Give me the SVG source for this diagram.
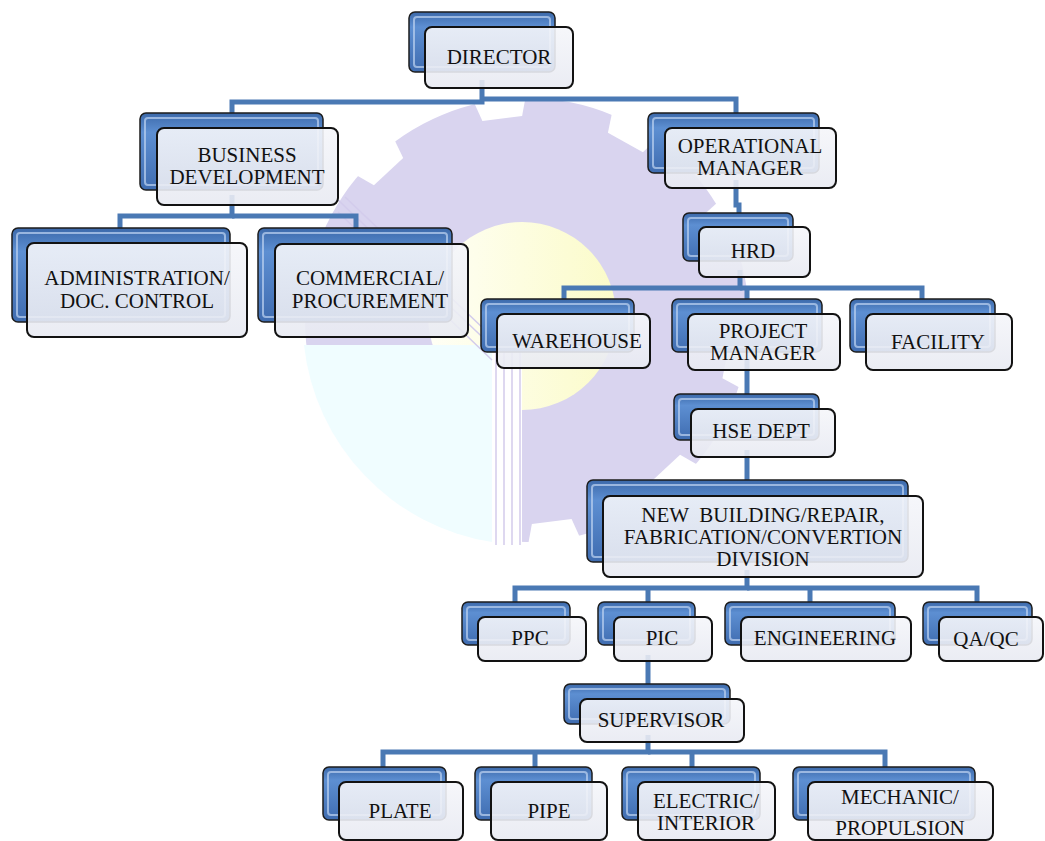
<svg xmlns="http://www.w3.org/2000/svg" width="1045" height="841" viewBox="0 0 1045 841">
<defs>
<linearGradient id="gb" x1="0" y1="0" x2="0" y2="1">
<stop offset="0" stop-color="#3c69aa"/>
<stop offset="0.25" stop-color="#5d8fd2"/>
<stop offset="1" stop-color="#3f6cb0"/>
</linearGradient>
<linearGradient id="gw" x1="0" y1="0" x2="0" y2="1">
<stop offset="0" stop-color="#f5f6fa"/>
<stop offset="1" stop-color="#e8eaf2"/>
</linearGradient>
<linearGradient id="gy" x1="0" y1="0" x2="1" y2="0">
<stop offset="0" stop-color="#fffff6"/>
<stop offset="1" stop-color="#fbfbc9"/>
</linearGradient>
<style>
.bk{fill:url(#gb);stroke:#1c1c1c;stroke-width:1.5}
.bi{fill:none;stroke:#b7cdee;stroke-width:2;stroke-opacity:.75}
.fr{fill:url(#gw);fill-opacity:.9;stroke:#121212;stroke-width:2}
.t{font-family:"Liberation Serif","Times New Roman",serif;font-size:21px;fill:#111;text-anchor:middle}
.c{fill:none;stroke:#4a79b4;stroke-width:5}
.wl{fill:none;stroke:#d3ccec;stroke-width:1.5}
.n{fill:#ffffff}
</style>
</defs>
<rect width="1045" height="841" fill="#ffffff"/>
<g id="watermark">
<circle cx="527" cy="320" r="222" fill="#d9d4ef"/>
<g class="n">
<polygon points="730,300 762,290 762,350 730,340" transform="rotate(-97 527 320)"/>
<polygon points="730,300 762,290 762,350 730,340" transform="rotate(-61 527 320)"/>
<polygon points="730,300 762,290 762,350 730,340" transform="rotate(-25 527 320)"/>
<polygon points="730,300 762,290 762,350 730,340" transform="rotate(11 527 320)"/>
<polygon points="730,300 762,290 762,350 730,340" transform="rotate(47 527 320)"/>
<polygon points="730,300 762,290 762,350 730,340" transform="rotate(83 527 320)"/>
<polygon points="730,300 762,290 762,350 730,340" transform="rotate(-133 527 320)"/>
<polygon points="730,300 762,290 762,350 730,340" transform="rotate(-169 527 320)"/>
</g>
<circle cx="522" cy="316" r="94" fill="url(#gy)"/>
<path d="M492,345 L304,345 A224 224 0 0 0 492,542 Z" fill="#f0fdff"/>
<rect x="492" y="345" width="30" height="200" fill="#ffffff"/>
<path class="wl" d="M496,350 V545 M504,350 V545 M512,350 V545 M520,350 V545"/>
<path class="wl" d="M338,200 L496,350 M345,197 L504,348 M338,212 L492,360"/>
</g>
<g id="connectors">
<path class="c" d="M482,80 V102 H232 V120"/>
<path class="c" d="M482,99 H736 V120"/>
<path class="c" d="M232,195 V216 H120 V235"/>
<path class="c" d="M232,216 H356 V235"/>
<path class="c" d="M736,180 V205 H739 V220"/>
<path class="c" d="M740,270 V288 H564 V305"/>
<path class="c" d="M740,288 H922 V305"/>
<path class="c" d="M747,288 V305"/>
<path class="c" d="M747,360 V400"/>
<path class="c" d="M747,450 V486"/>
<path class="c" d="M747,570 V588 H515 V608"/>
<path class="c" d="M747,588 H977 V608"/>
<path class="c" d="M648,588 V608 M810,588 V608"/>
<path class="c" d="M648,655 V690"/>
<path class="c" d="M648,735 V752 H383 V773"/>
<path class="c" d="M648,752 H885 V773"/>
<path class="c" d="M535,752 V773 M692,752 V773"/>
</g>
<g id="director">
<rect class="bk" x="409" y="12" width="146" height="60" rx="6"/>
<rect class="bi" x="414" y="17" width="136" height="50" rx="3"/>
<rect class="fr" x="425" y="27" width="148" height="61" rx="7"/>
<text class="t" x="499" y="64">DIRECTOR</text>
</g>
<g id="business">
<rect class="bk" x="140" y="113" width="183" height="77" rx="6"/>
<rect class="bi" x="145" y="118" width="173" height="67" rx="3"/>
<rect class="fr" x="157" y="128" width="181" height="77" rx="7"/>
<text class="t" x="247" y="162">BUSINESS</text>
<text class="t" x="247" y="184">DEVELOPMENT</text>
</g>
<g id="operational">
<rect class="bk" x="648" y="113" width="171" height="60" rx="6"/>
<rect class="bi" x="653" y="118" width="161" height="50" rx="3"/>
<rect class="fr" x="665" y="128" width="171" height="60" rx="7"/>
<text class="t" x="750" y="153">OPERATIONAL</text>
<text class="t" x="750" y="175">MANAGER</text>
</g>
<g id="administration">
<rect class="bk" x="12" y="228" width="218" height="94" rx="6"/>
<rect class="bi" x="17" y="233" width="208" height="84" rx="3"/>
<rect class="fr" x="27" y="243" width="220" height="94" rx="7"/>
<text class="t" x="137" y="285">ADMINISTRATION/</text>
<text class="t" x="137" y="308">DOC. CONTROL</text>
</g>
<g id="commercial">
<rect class="bk" x="258" y="228" width="194" height="94" rx="6"/>
<rect class="bi" x="263" y="233" width="184" height="84" rx="3"/>
<rect class="fr" x="275" y="244" width="193" height="93" rx="7"/>
<text class="t" x="370" y="285">COMMERCIAL/</text>
<text class="t" x="370" y="308">PROCUREMENT</text>
</g>
<g id="hrd">
<rect class="bk" x="683" y="213" width="110" height="48" rx="6"/>
<rect class="bi" x="688" y="218" width="100" height="38" rx="3"/>
<rect class="fr" x="699" y="227" width="111" height="50" rx="7"/>
<text class="t" x="753" y="258">HRD</text>
</g>
<g id="warehouse">
<rect class="bk" x="481" y="299" width="153" height="53" rx="6"/>
<rect class="bi" x="486" y="304" width="143" height="43" rx="3"/>
<rect class="fr" x="497" y="314" width="153" height="54" rx="7"/>
<text class="t" x="577" y="348">WAREHOUSE</text>
</g>
<g id="project-manager">
<rect class="bk" x="672" y="299" width="150" height="53" rx="6"/>
<rect class="bi" x="677" y="304" width="140" height="43" rx="3"/>
<rect class="fr" x="688" y="314" width="152" height="56" rx="7"/>
<text class="t" x="763" y="338">PROJECT</text>
<text class="t" x="763" y="360">MANAGER</text>
</g>
<g id="facility">
<rect class="bk" x="850" y="299" width="145" height="53" rx="6"/>
<rect class="bi" x="855" y="304" width="135" height="43" rx="3"/>
<rect class="fr" x="866" y="314" width="146" height="56" rx="7"/>
<text class="t" x="938" y="349">FACILITY</text>
</g>
<g id="hse">
<rect class="bk" x="674" y="394" width="145" height="46" rx="6"/>
<rect class="bi" x="679" y="399" width="135" height="36" rx="3"/>
<rect class="fr" x="691" y="409" width="144" height="48" rx="7"/>
<text class="t" x="761" y="438">HSE DEPT</text>
</g>
<g id="new-building">
<rect class="bk" x="587" y="480" width="321" height="82" rx="6"/>
<rect class="bi" x="592" y="485" width="311" height="72" rx="3"/>
<rect class="fr" x="603" y="496" width="320" height="81" rx="7"/>
<text class="t" x="763" y="522" style="white-space:pre">NEW  BUILDING/REPAIR,</text>
<text class="t" x="763" y="544">FABRICATION/CONVERTION</text>
<text class="t" x="763" y="566">DIVISION</text>
</g>
<g id="ppc">
<rect class="bk" x="462" y="602" width="108" height="43" rx="6"/>
<rect class="bi" x="467" y="607" width="98" height="33" rx="3"/>
<rect class="fr" x="478" y="617" width="108" height="44" rx="7"/>
<text class="t" x="530" y="645">PPC</text>
</g>
<g id="pic">
<rect class="bk" x="598" y="602" width="97" height="43" rx="6"/>
<rect class="bi" x="603" y="607" width="87" height="33" rx="3"/>
<rect class="fr" x="614" y="617" width="98" height="44" rx="7"/>
<text class="t" x="662" y="645">PIC</text>
</g>
<g id="engineering">
<rect class="bk" x="725" y="602" width="170" height="43" rx="6"/>
<rect class="bi" x="730" y="607" width="160" height="33" rx="3"/>
<rect class="fr" x="741" y="617" width="170" height="44" rx="7"/>
<text class="t" x="825" y="645">ENGINEERING</text>
</g>
<g id="qaqc">
<rect class="bk" x="923" y="602" width="109" height="43" rx="6"/>
<rect class="bi" x="928" y="607" width="99" height="33" rx="3"/>
<rect class="fr" x="939" y="617" width="104" height="44" rx="7"/>
<text class="t" x="986" y="646">QA/QC</text>
</g>
<g id="supervisor">
<rect class="bk" x="564" y="684" width="166" height="40" rx="6"/>
<rect class="bi" x="569" y="689" width="156" height="30" rx="3"/>
<rect class="fr" x="580" y="699" width="164" height="43" rx="7"/>
<text class="t" x="661" y="727">SUPERVISOR</text>
</g>
<g id="plate">
<rect class="bk" x="323" y="767" width="123" height="53" rx="6"/>
<rect class="bi" x="328" y="772" width="113" height="43" rx="3"/>
<rect class="fr" x="339" y="782" width="124" height="58" rx="7"/>
<text class="t" x="400" y="818">PLATE</text>
</g>
<g id="pipe">
<rect class="bk" x="475" y="767" width="117" height="53" rx="6"/>
<rect class="bi" x="480" y="772" width="107" height="43" rx="3"/>
<rect class="fr" x="491" y="782" width="116" height="58" rx="7"/>
<text class="t" x="549" y="818">PIPE</text>
</g>
<g id="electric">
<rect class="bk" x="622" y="767" width="138" height="53" rx="6"/>
<rect class="bi" x="627" y="772" width="128" height="43" rx="3"/>
<rect class="fr" x="638" y="782" width="137" height="58" rx="7"/>
<text class="t" x="706" y="808">ELECTRIC/</text>
<text class="t" x="706" y="830">INTERIOR</text>
</g>
<g id="mechanic">
<rect class="bk" x="793" y="767" width="182" height="53" rx="6"/>
<rect class="bi" x="798" y="772" width="172" height="43" rx="3"/>
<rect class="fr" x="808" y="782" width="185" height="58" rx="7"/>
<text class="t" x="900" y="804">MECHANIC/</text>
<text class="t" x="900" y="835">PROPULSION</text>
</g>
</svg>
